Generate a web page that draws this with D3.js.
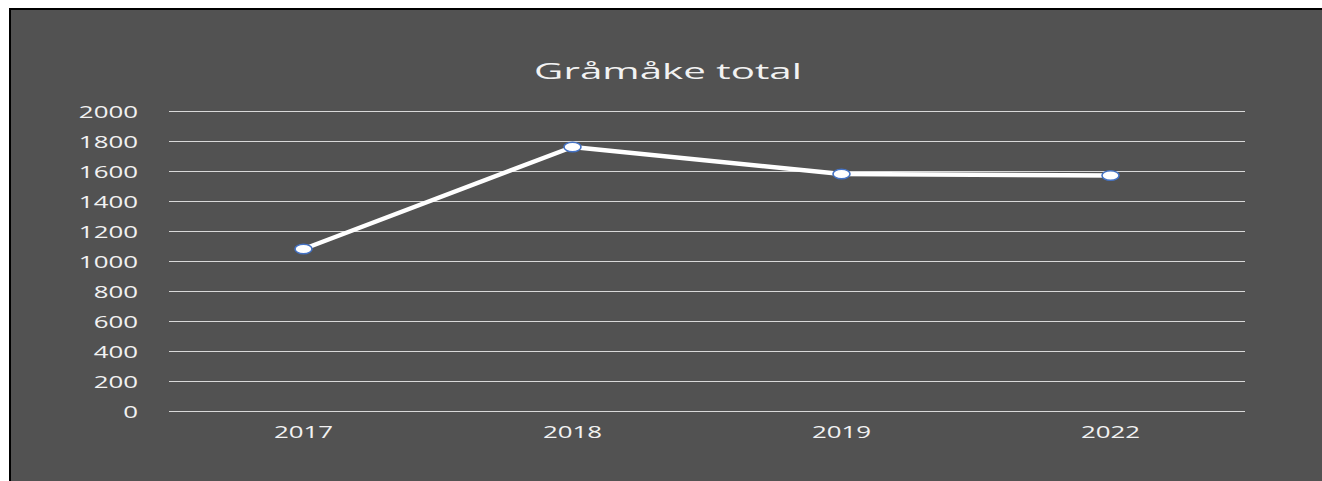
<!DOCTYPE html>
<html><head><meta charset="utf-8">
<script src="https://cdn.jsdelivr.net/npm/d3@7"></script>
<style>html,body{margin:0;padding:0;background:#fff;overflow:hidden}</style>
</head><body>
<svg id="c" width="1322" height="481"></svg>
<script>
const categories = ["2017", "2018", "2019", "2022"];
const values = [1080, 1760, 1580, 1570];
const yTicks = [0, 200, 400, 600, 800, 1000, 1200, 1400, 1600, 1800, 2000];
const title = "Gråmåke total";

const svg = d3.select("#c");
svg.append("rect").attr("x", 10).attr("y", 9).attr("width", 1322).attr("height", 481)
  .attr("fill", "#525252").attr("stroke", "#000").attr("stroke-width", 2);

const x = d3.scaleBand().domain(categories).range([169, 1245]);
const y = d3.scaleLinear().domain([0, 2000]).range([411, 111]);
const font = "'Open Sans', 'DejaVu Sans', sans-serif";
const tickSX = 1.54, titleSX = 1.8;

svg.append("text").attr("text-anchor", "middle")
  .attr("transform", `translate(668,79) scale(${titleSX},1)`)
  .attr("fill", "#f2f2f2").attr("font-family", font).attr("font-size", 22.4).text(title);

const yAxis = svg.append("g").attr("transform", "translate(169,0)")
  .call(d3.axisLeft(y).tickValues(yTicks).tickSize(-(1245 - 169)).tickFormat(d3.format("d")));
yAxis.select(".domain").remove();
yAxis.selectAll(".tick line").attr("stroke", "#d9d9d9").attr("stroke-width", 1.2);
yAxis.selectAll(".tick text").attr("x", 0).attr("dy", "0.36em")
  .attr("transform", `translate(-31,0) scale(${tickSX},1)`)
  .attr("fill", "#f2f2f2").attr("font-family", font).attr("font-size", 16.8);

const xAxis = svg.append("g").attr("transform", "translate(0,411)")
  .call(d3.axisBottom(x).tickSize(0));
xAxis.select(".domain").remove();
xAxis.selectAll(".tick text").attr("y", 27).attr("dy", 0)
  .attr("transform", `scale(${tickSX},1)`)
  .attr("fill", "#f2f2f2").attr("font-family", font).attr("font-size", 16.8);

const pts = categories.map((c, i) => [x(c) + x.bandwidth() / 2, y(values[i])]);
svg.append("path").attr("d", d3.line()(pts)).attr("fill", "none")
  .attr("stroke", "#fff").attr("stroke-width", 4.5).attr("stroke-linejoin", "round");
svg.selectAll("ellipse.m").data(pts).join("ellipse").attr("class", "m")
  .attr("cx", d => d[0]).attr("cy", d => d[1]).attr("rx", 8.5).attr("ry", 4.8)
  .attr("fill", "#fff").attr("stroke", "#4472c4").attr("stroke-width", 1.6);
</script>
</body></html>
